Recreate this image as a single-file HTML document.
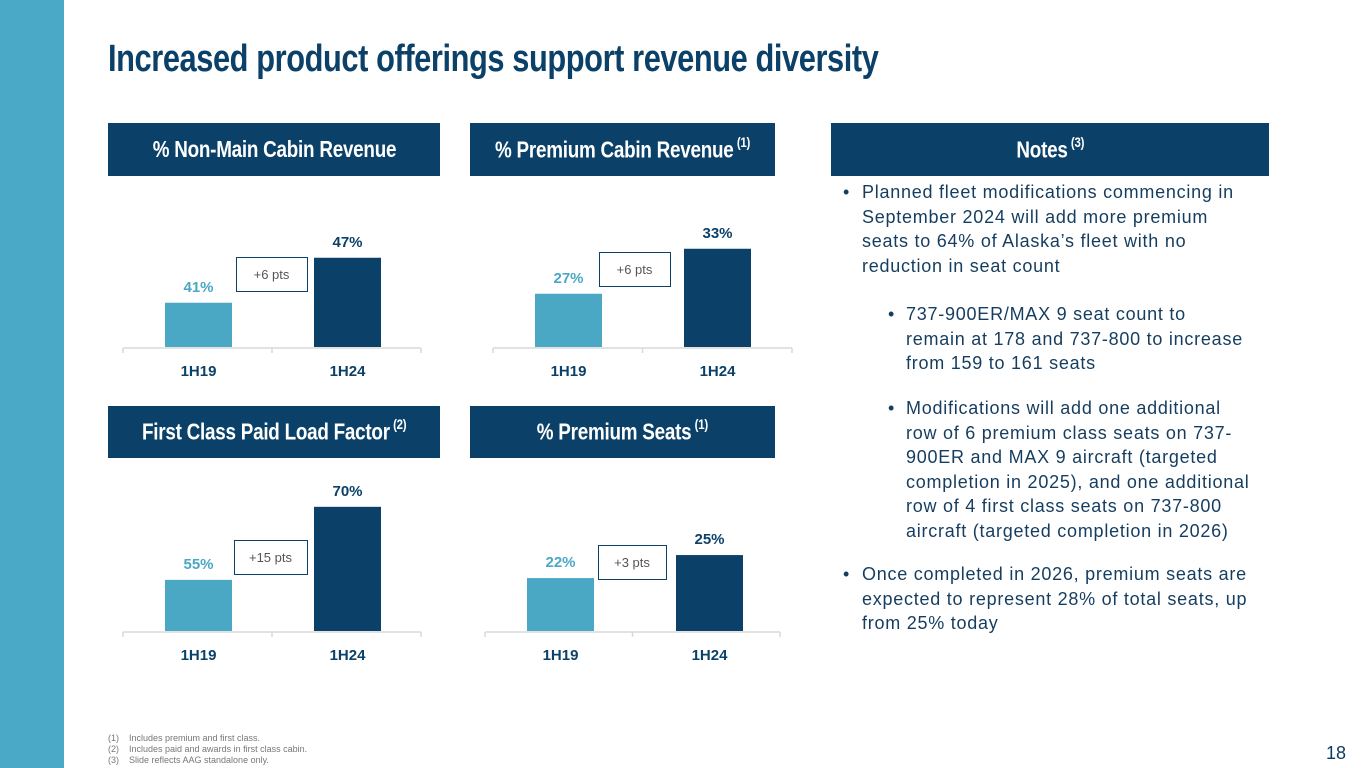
<!DOCTYPE html>
<html><head><meta charset="utf-8"><style>
body{margin:0;width:1365px;height:768px;position:relative;background:#fff;overflow:hidden;font-family:"Liberation Sans",sans-serif;color:#0c3c60}
.abs{position:absolute}
.hdr{position:absolute;background:#0b4168;color:#fff;font-family:"Liberation Sans",sans-serif;font-weight:bold;font-size:23px;display:flex;align-items:center;justify-content:center}
.hdr span{display:inline-block;white-space:nowrap;transform:scaleX(0.82);letter-spacing:-0.3px}
.hdr sup{font-size:14px;margin-left:4px;position:relative;top:-2px}
.notes{position:absolute;font-size:18px;line-height:24.5px;color:#153d5f;letter-spacing:0.75px}
.fn{position:absolute;left:108px;font-size:9px;color:#777;line-height:11px}
</style></head><body>
<div class="abs" style="left:0;top:0;width:64px;height:768px;background:#49a9c6"></div>
<div class="abs" style="left:108px;top:38px;font-weight:bold;font-size:38px;color:#0b4168;letter-spacing:-0.5px;white-space:nowrap;transform:scaleX(0.81);transform-origin:left">Increased product offerings support revenue diversity</div>

<div class="hdr" style="left:108px;top:123px;width:332px;height:53px"><span>% Non-Main Cabin Revenue</span></div>
<div class="hdr" style="left:470px;top:123px;width:305px;height:53px"><span>% Premium Cabin Revenue<sup>(1)</sup></span></div>
<div class="hdr" style="left:831px;top:123px;width:438px;height:53px"><span>Notes<sup>(3)</sup></span></div>
<div class="hdr" style="left:108px;top:406px;width:332px;height:52px"><span>First Class Paid Load Factor<sup>(2)</sup></span></div>
<div class="hdr" style="left:470px;top:406px;width:305px;height:52px"><span>% Premium Seats<sup>(1)</sup></span></div>

<svg id="charts" class="abs" style="left:0;top:0" width="1365" height="768"></svg>

<div class="notes" style="left:843px;top:180px;width:440px">
<div class="abs" style="left:0;top:0">•</div>
<div class="abs" style="left:19px;top:0;white-space:nowrap">Planned fleet modifications commencing in<br>September 2024 will add more premium<br>seats to 64% of Alaska’s fleet with no<br>reduction in seat count</div>
<div class="abs" style="left:45px;top:122px">•</div>
<div class="abs" style="left:63px;top:122px;white-space:nowrap">737-900ER/MAX 9 seat count to<br>remain at 178 and 737-800 to increase<br>from 159 to 161 seats</div>
<div class="abs" style="left:45px;top:216px">•</div>
<div class="abs" style="left:63px;top:216px;white-space:nowrap">Modifications will add one additional<br>row of 6 premium class seats on 737-<br>900ER and MAX 9 aircraft (targeted<br>completion in 2025), and one additional<br>row of 4 first class seats on 737-800<br>aircraft (targeted completion in 2026)</div>
<div class="abs" style="left:0;top:382px">•</div>
<div class="abs" style="left:19px;top:382px;white-space:nowrap">Once completed in 2026, premium seats are<br>expected to represent 28% of total seats, up<br>from 25% today</div>
</div>

<div class="fn" style="top:733px">(1)&nbsp;&nbsp;&nbsp; Includes premium and first class.<br>(2)&nbsp;&nbsp;&nbsp; Includes paid and awards in first class cabin.<br>(3)&nbsp;&nbsp;&nbsp; Slide reflects AAG standalone only.</div>
<div class="abs" style="left:1326px;top:743px;font-size:18px;color:#0c3c60">18</div>

<script>
const categories = ["1H19","1H24"];
const nonMainValues = [41,47];
const premiumCabinValues = [27,33];
const firstClassValues = [55,70];
const premiumSeatValues = [22,25];
const deltaLabels = ["+6 pts","+6 pts","+15 pts","+3 pts"];
const domainMins = [35.1,19.9,44.5,15.1];
const pxPerPt = [7.5,7.5,4.87,7.67];

const svg=document.getElementById('charts');
const NS='http://www.w3.org/2000/svg';
function mk(tag,attrs){const e=document.createElementNS(NS,tag);for(const k in attrs)e.setAttribute(k,attrs[k]);svg.appendChild(e);return e;}
const layouts=[
 {name:'non-main',ax0:123,ax1:421,base:347,bx:[165,314],bw:67,box:[236,257,71,34]},
 {name:'premium-cabin',ax0:493,ax1:792,base:347,bx:[535,684],bw:67,box:[599,252,71,34]},
 {name:'first-class',ax0:123,ax1:421,base:631,bx:[165,314],bw:67,box:[234,540,73,34]},
 {name:'premium-seats',ax0:485,ax1:780,base:631,bx:[527,676],bw:67,box:[598,545,68,34]}
];
const series=[nonMainValues,premiumCabinValues,firstClassValues,premiumSeatValues];
const colors=['#4aa8c5','#0b4168'];
layouts.forEach((L,ci)=>{
 const y=v=>L.base-(v-domainMins[ci])*pxPerPt[ci];
 const ax=mk('line',{x1:L.ax0,x2:L.ax1,y1:L.base+1,y2:L.base+1,stroke:'#d9d9d9','stroke-width':1.5});
 
 
 [L.ax0,(L.ax0+L.ax1)/2,L.ax1].forEach(tx=>{mk('line',{x1:tx,x2:tx,y1:L.base+1,y2:L.base+6,stroke:'#d9d9d9','stroke-width':1.5});});
 series[ci].forEach((v,i)=>{
  const top=y(v);
  const r=mk('rect',{x:L.bx[i],y:top,width:L.bw,height:L.base-top,fill:colors[i]});
  
  
  const t=mk('text',{x:L.bx[i]+L.bw/2,y:top-11,'text-anchor':'middle','font-size':15,'font-weight':'bold',fill:colors[i],'font-family':'Liberation Sans'});
  t.textContent=v+'%';
  
  
  const c=mk('text',{x:L.bx[i]+L.bw/2,y:L.base+29,'text-anchor':'middle','font-size':15,'font-weight':'bold',fill:'#0b4168','font-family':'Liberation Sans'});
  c.textContent=categories[i];
  
  
 });
 const b=L.box;
 const br=mk('rect',{x:b[0]+0.5,y:b[1]+0.5,width:b[2],height:b[3],fill:'#fff',stroke:'#0b4168','stroke-width':1});
 
 
 const bt=mk('text',{x:b[0]+b[2]/2,y:b[1]+b[3]/2+5,'text-anchor':'middle','font-size':13,fill:'#555','font-family':'Liberation Sans'});
 bt.textContent=deltaLabels[ci];
 
 
});
</script>
</body></html>
